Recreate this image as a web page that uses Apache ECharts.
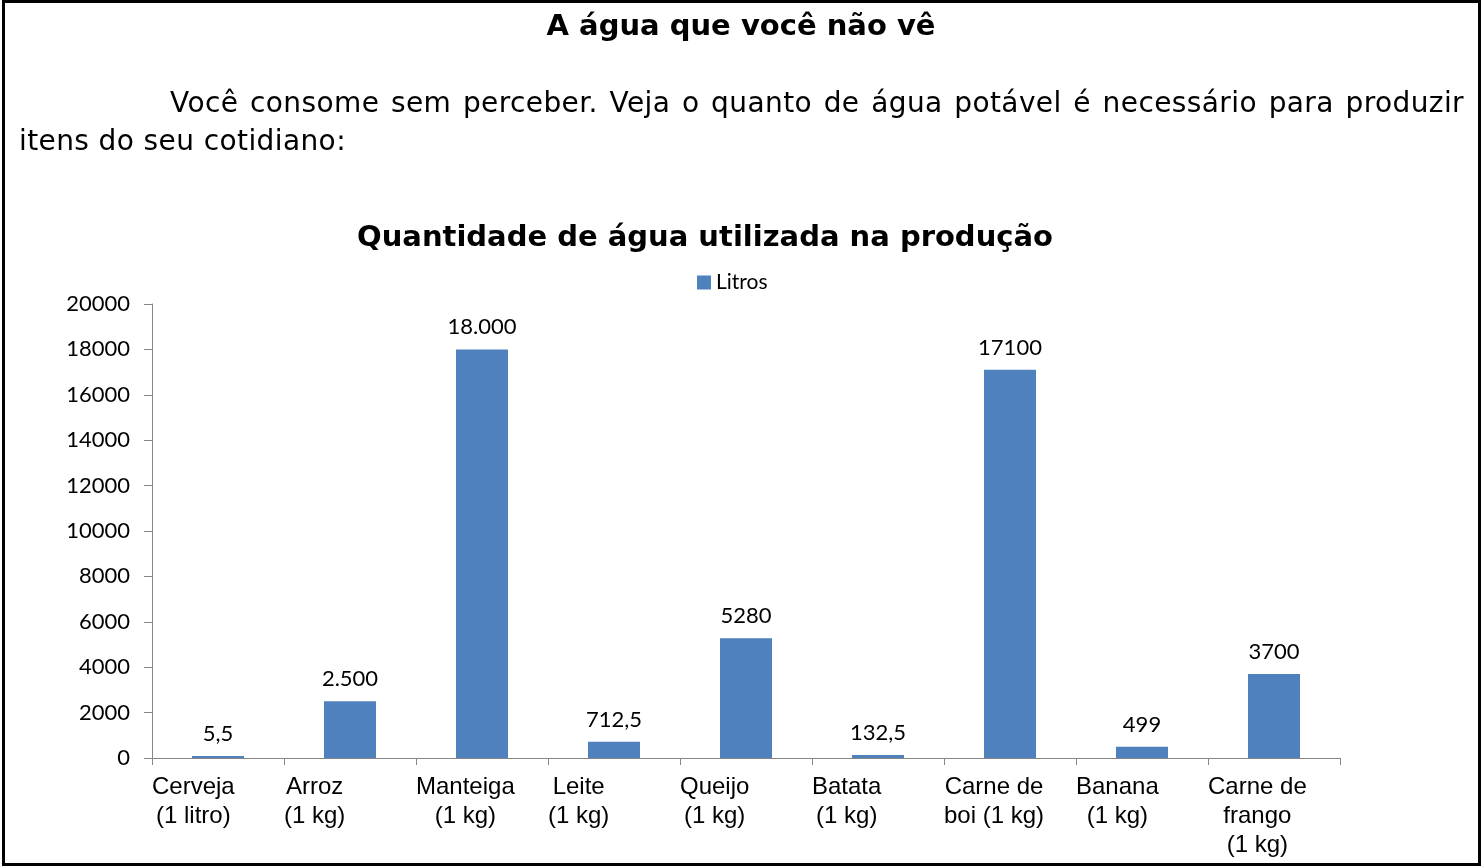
<!DOCTYPE html>
<html>
<head>
<meta charset="utf-8">
<script src="https://cdn.jsdelivr.net/npm/echarts@6/dist/echarts.min.js"></script>
<style>
html,body{margin:0;padding:0;background:#fff;width:1482px;height:866px;overflow:hidden}
#chart{position:absolute;left:0;top:0;width:1482px;height:866px}
#frame{position:absolute;left:2px;top:0;width:1479px;height:866px;border:3px solid #000;box-sizing:border-box;pointer-events:none}
#para{position:absolute;left:19px;top:84px;width:1445px;font-family:'DejaVu Sans';font-size:28px;line-height:38px;text-align:justify;text-indent:151px;letter-spacing:0.4px;color:#000;margin:0}
</style>
</head>
<body>
<div id="chart"></div>
<p id="para">Você consome sem perceber. Veja o quanto de água potável é necessário para produzir itens do seu cotidiano:</p>
<div id="frame"></div>
<script>
// ---- data ----
const pageTitle = 'A água que você não vê';
const chartTitle = 'Quantidade de água utilizada na produção';
const seriesName = 'Litros';
const categories = [
  'Cerveja\n(1 litro)', 'Arroz\n(1 kg)', 'Manteiga\n(1 kg)', 'Leite\n(1 kg)',
  'Queijo\n(1 kg)', 'Batata\n(1 kg)', 'Carne de\nboi (1 kg)', 'Banana\n(1 kg)',
  'Carne de\nfrango\n(1 kg)'
];
const litros = [5.5, 2500, 18000, 712.5, 5280, 132.5, 17100, 499, 3700];
const valueLabels = ['5,5', '2.500', '18.000', '712,5', '5280', '132,5', '17100', '499', '3700'];
const yMin = 0, yMax = 20000, yStep = 2000;

// ---- chart ----
const chart = echarts.init(document.getElementById('chart'), null, {renderer: 'canvas'});
const axisGray = '#868686';
chart.setOption({
  animation: false,
  backgroundColor: '#fff',
  title: [
    {text: pageTitle, left: 741, top: 13, textAlign: 'center', padding: 0,
     textStyle: {fontFamily: 'DejaVu Sans', fontWeight: 'bold', fontSize: 29, color: '#000'}},
    {text: chartTitle, left: 705, top: 224, textAlign: 'center', padding: 0,
     textStyle: {fontFamily: 'DejaVu Sans', fontWeight: 'bold', fontSize: 29, color: '#000'}}
  ],
  legend: {
    data: [seriesName], left: 697, top: 272, padding: 0,
    icon: 'rect', itemWidth: 14, itemHeight: 14,
    textStyle: {fontFamily: 'Lato', fontSize: 21, color: '#000'}
  },
  grid: {left: 152, right: 142, top: 304, bottom: 108, containLabel: false, outerBoundsMode: 'none'},
  xAxis: [
    {
      type: 'category', data: categories, position: 'bottom',
      axisLine: {show: true, lineStyle: {color: axisGray, width: 1}},
      axisTick: {show: true, length: 7, lineStyle: {color: axisGray}},
      axisLabel: {show: false},
      splitLine: {show: false}
    },
    {
      type: 'category', data: categories.concat(['']), position: 'bottom', boundaryGap: false,
      axisLine: {show: false}, axisTick: {show: false}, splitLine: {show: false},
      axisLabel: {
        interval: 0, align: 'left', margin: 15,
        fontFamily: 'Liberation Sans', fontSize: 24, lineHeight: 29, color: '#000',
        formatter: v => v.split('\n').map(s => '{c|' + s + '}').join('\n'),
        rich: {c: {align: 'center', fontFamily: 'Liberation Sans', fontSize: 24, lineHeight: 29, color: '#000'}}
      }
    }
  ],
  yAxis: {
    type: 'value', min: yMin, max: yMax, interval: yStep,
    axisLine: {show: true, lineStyle: {color: axisGray, width: 1}},
    axisTick: {show: true, length: 8, lineStyle: {color: axisGray}},
    splitLine: {show: false},
    axisLabel: {margin: 22, fontFamily: 'Lato', fontSize: 22, color: '#000', formatter: v => String(v)}
  },
  series: [{
    name: seriesName, type: 'bar', xAxisIndex: 0, data: litros, barWidth: 52, barMinHeight: 2,
    itemStyle: {color: '#4F81BD'},
    label: {
      show: true, position: 'top', distance: 11,
      fontFamily: 'Lato', fontSize: 22, color: '#000',
      formatter: p => valueLabels[p.dataIndex]
    }
  }]
});
</script>
</body>
</html>
